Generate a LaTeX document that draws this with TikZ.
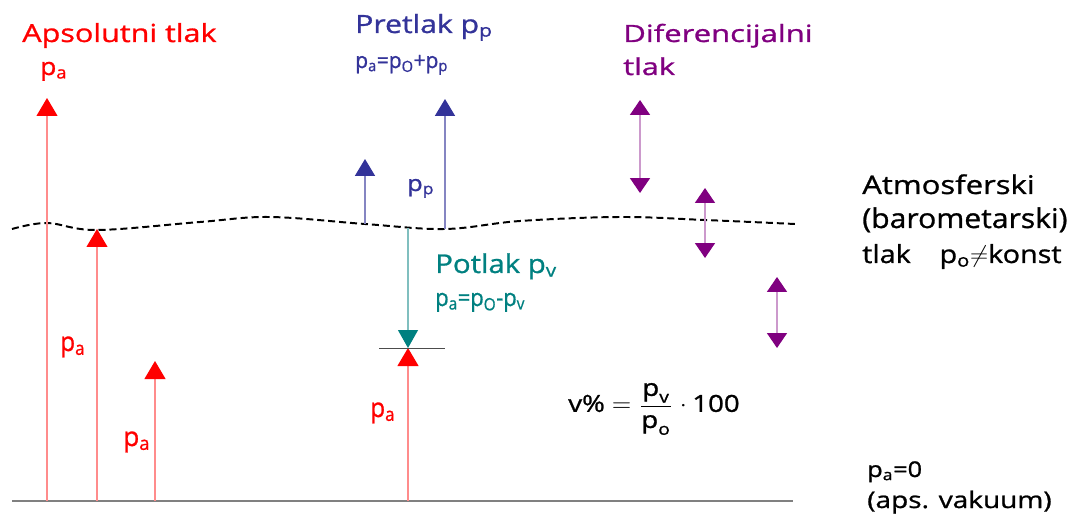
\documentclass[tikz,border=0pt]{standalone}
\usepackage{fontspec}
\usepackage{amsmath}
\usepackage{graphicx}
\setmainfont{Open Sans}[FakeStretch=1.1, FakeBold=1]
\usetikzlibrary{arrows.meta}
\definecolor{cred}{RGB}{255,0,0}
\definecolor{cblue}{RGB}{51,51,153}
\definecolor{cteal}{RGB}{0,128,128}
\definecolor{cpurp}{RGB}{128,0,128}
\newdimen\pxu \pxu=0.70866pt
\newcommand{\WH}[3]{\resizebox*{#1\pxu}{#2\pxu}{#3}}
\tikzset{
  lbl/.style={anchor=base west, inner sep=0pt, font=\fontsize{18}{20}\selectfont},
  redarr/.style={draw=cred!45, line width=0.9pt, -{Triangle[width=14.9pt,length=12.8pt,color=cred]}},
  bluearr/.style={draw=cblue!60, line width=0.9pt, -{Triangle[width=14.2pt,length=12pt,color=cblue]}},
  tealarr/.style={draw=cteal!50, line width=0.9pt, -{Triangle[width=14.2pt,length=12.8pt,color=cteal]}},
  purparr/.style={draw=cpurp!40, line width=0.9pt, {Triangle[width=14.2pt,length=10.6pt,color=cpurp]}-{Triangle[width=14.2pt,length=10.6pt,color=cpurp]}},
  atmline/.style={draw=black, line width=1.4pt, dash pattern=on 5pt off 2.8pt},
  groundline/.style={draw=gray, line width=0.8pt},
  tickline/.style={draw=black!70, line width=0.6pt}
}
\begin{document}
\begin{tikzpicture}[x=0.025cm, y=-0.025cm]
\useasboundingbox (0,0) rectangle (1080,518);
% ground
\coordinate (gL) at (12,501);
\coordinate (gR) at (793,501);
\draw[groundline] (gL) -- (gR);
% atmospheric dashed curve
\draw[atmline] plot[smooth, tension=0.6] coordinates {(12,229) (47,223) (97,230) (200,222) (270,217) (365,224) (445,229) (520,221) (620,217) (705,220) (795,224)};
% red arrows
\coordinate (r1b) at (47,501); \coordinate (r1t) at (47,98);
\coordinate (r2b) at (97,501); \coordinate (r2t) at (97,229);
\coordinate (r3b) at (155,501); \coordinate (r3t) at (155,361);
\coordinate (r4b) at (408,501); \coordinate (r4t) at (408,348);
\draw[redarr] (r1b) -- (r1t);
\draw[redarr] (r2b) -- (r2t);
\draw[redarr] (r3b) -- (r3t);
\draw[redarr] (r4b) -- (r4t);
% teal arrow and tick
\coordinate (tb) at (408,228); \coordinate (tt) at (408,348);
\draw[tealarr] (tb) -- (tt);
\coordinate (kL) at (379,348); \coordinate (kR) at (445,348);
\draw[tickline] (kL) -- (kR);
% blue arrows
\coordinate (b1b) at (365,224); \coordinate (b1t) at (365,159);
\coordinate (b2b) at (445,229); \coordinate (b2t) at (445,99);
\draw[bluearr] (b1b) -- (b1t);
\draw[bluearr] (b2b) -- (b2t);
% purple double arrows
\coordinate (pA1) at (640,100); \coordinate (pA2) at (640,193);
\coordinate (pB1) at (705,188); \coordinate (pB2) at (705,258);
\coordinate (pC1) at (777,277); \coordinate (pC2) at (777,348);
\draw[purparr] (pA1) -- (pA2);
\draw[purparr] (pB1) -- (pB2);
\draw[purparr] (pC1) -- (pC2);
% texts
\node[lbl, text=cred] (apsT) at (22,42) {\WH{195}{25}{Apsolutni tlak}};
\node[lbl, text=cred] (paTop) at (40,75) {\WH{27}{19}{p\textsubscript{a}}};
\node[lbl, text=cblue] (preT) at (355,33) {\WH{138}{27}{Pretlak p\textsubscript{p}}};
\node[lbl, text=cblue] (preE) at (355,68) {\WH{93}{20}{p\textsubscript{a}=p\textsubscript{O}+p\textsubscript{p}}};
\node[lbl, text=cblue] (ppL) at (407,191) {\WH{27}{19}{p\textsubscript{p}}};
\node[lbl, text=cpurp] (difT1) at (623,42) {\WH{190}{24}{Diferencijalni}};
\node[lbl, text=cpurp] (difT2) at (623,75) {\WH{52}{18}{tlak}};
\node[lbl, text=black] (atm1) at (862,194) {\WH{173}{20}{Atmosferski}};
\node[lbl, text=black] (atm2) at (862,228) {\WH{206}{25}{(barometarski)}};
\node[lbl, text=black] (atm3) at (862,263) {\WH{200}{25}{tlak\hspace{1.1em}p\textsubscript{o}$\neq$konst}};
\node[lbl, text=cteal] (potT) at (435,273) {\WH{122}{26}{Potlak p\textsubscript{v}}};
\node[lbl, text=cteal] (potE) at (435,306) {\WH{90}{19}{p\textsubscript{a}=p\textsubscript{O}-p\textsubscript{v}}};
\node[lbl, text=cred] (pa1) at (60,351) {\WH{25}{21}{p\textsubscript{a}}};
\node[lbl, text=cred] (pa2) at (123,446) {\WH{27}{21}{p\textsubscript{a}}};
\node[lbl, text=cred] (pa3) at (370,417) {\WH{25}{21}{p\textsubscript{a}}};
\node[anchor=west, inner sep=0pt] (frm) at (568,409) {\resizebox*{172\pxu}{52\pxu}{$\text{v\%}=\dfrac{\text{p}_{\text{v}}}{\text{p}_{\text{o}}}\cdot\text{100}$}};
\node[lbl, text=black] (vac1) at (867,477) {\WH{55}{21}{p\textsubscript{a}=0}};
\node[lbl, text=black] (vac2) at (867,508) {\WH{185}{23}{(aps. vakuum)}};
\end{tikzpicture}
\end{document}
